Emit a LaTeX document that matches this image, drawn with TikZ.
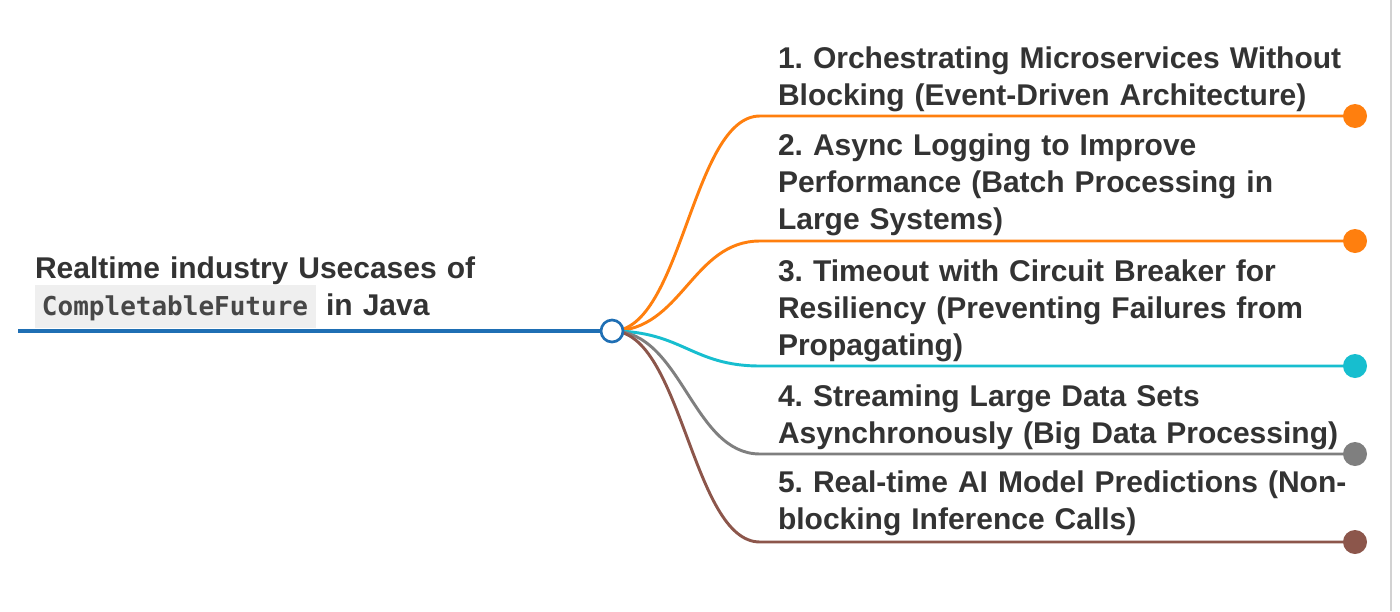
\documentclass[tikz,border=0pt]{standalone}
\usepackage{fontspec}
\setmainfont{Liberation Sans}
\newfontfamily\codefont{DejaVu Sans Mono}
\usetikzlibrary{positioning}
\pgfdeclarelayer{background}
\pgfsetlayers{background,main}
\frenchspacing

\definecolor{mmblue}{RGB}{31,111,180}
\definecolor{mmorange}{RGB}{255,127,14}
\definecolor{mmcyan}{RGB}{23,190,207}
\definecolor{mmgray}{RGB}{127,127,127}
\definecolor{mmbrown}{RGB}{140,86,75}
\definecolor{inkgray}{RGB}{51,51,51}
\definecolor{codegray}{RGB}{239,239,239}
\definecolor{rulegray}{RGB}{210,210,210}

\newcommand{\codebox}[1]{{\setlength{\fboxsep}{0pt}\colorbox{codegray}{\hspace{5.25pt}\rule[-9.75pt]{0pt}{32.25pt}{\codefont\bfseries\fontsize{19.5pt}{20pt}\selectfont\color{inkgray!90!white}#1}\hspace{6pt}}}}

\tikzset{
  topic/.style={anchor=base west, inner sep=0pt, outer sep=0pt, align=left, text width=450pt,
    text=inkgray, font=\bfseries\fontsize{22.5pt}{27.75pt}\selectfont},
  hub/.style={circle, draw=mmblue, fill=white, line width=2pt, minimum size=16.5pt, inner sep=0pt},
  dot/.style={circle, fill=#1, minimum size=18pt, inner sep=0pt},
  link/.style={line width=2.2pt, draw=#1}
}

\begin{document}
\begin{tikzpicture}[x=0.75pt,y=0.75pt,yscale=-1,xscale=1]
\useasboundingbox (0,0) rectangle (1400,611);

% right border
\draw[rulegray, line width=1.5pt] (1391,0) -- (1391,611);

% root
\node[topic] (root) at (35,278) {Realtime industry Usecases of\\\codebox{CompletableFuture} in Java};
\coordinate (rootstart) at (18,331);
\node[hub] (center) at (612,331) {};
\draw[mmblue, line width=2.6pt] (rootstart) -- (center.west);

% topics
\node[topic] (t1) at (778,68) {1. Orchestrating Microservices Without\\Blocking (Event-Driven Architecture)};
\node[topic] (t2) at (778,155) {2. Async Logging to Improve\\Performance (Batch Processing in\\Large Systems)};
\node[topic] (t3) at (778,281) {3. Timeout with Circuit Breaker for\\Resiliency (Preventing Failures from\\Propagating)};
\node[topic] (t4) at (778,406) {4. Streaming Large Data Sets\\Asynchronously (Big Data Processing)};
\node[topic] (t5) at (778,492) {5. Real-time AI Model Predictions (Non-\\blocking Inference Calls)};

% end dots
\node[dot=mmorange] (d1) at (1355,116) {};
\node[dot=mmorange] (d2) at (1355,241) {};
\node[dot=mmcyan] (d3) at (1355,366) {};
\node[dot=mmgray] (d4) at (1355,454) {};
\node[dot=mmbrown] (d5) at (1355,542) {};

% knees
\coordinate (k1) at (760,116);
\coordinate (k2) at (760,241);
\coordinate (k3) at (760,366);
\coordinate (k4) at (760,454);
\coordinate (k5) at (760,542);

\begin{pgfonlayer}{background}
\draw[link=mmorange] (center.center) .. controls +(70,0) and +(-68,0) .. (k1) -- (d1.center);
\draw[link=mmorange] (center.center) .. controls +(70,0) and +(-68,0) .. (k2) -- (d2.center);
\draw[link=mmcyan] (center.center) .. controls +(70,0) and +(-68,0) .. (k3) -- (d3.center);
\draw[link=mmgray] (center.center) .. controls +(70,0) and +(-68,0) .. (k4) -- (d4.center);
\draw[link=mmbrown] (center.center) .. controls +(70,0) and +(-68,0) .. (k5) -- (d5.center);
\end{pgfonlayer}

\end{tikzpicture}
\end{document}
